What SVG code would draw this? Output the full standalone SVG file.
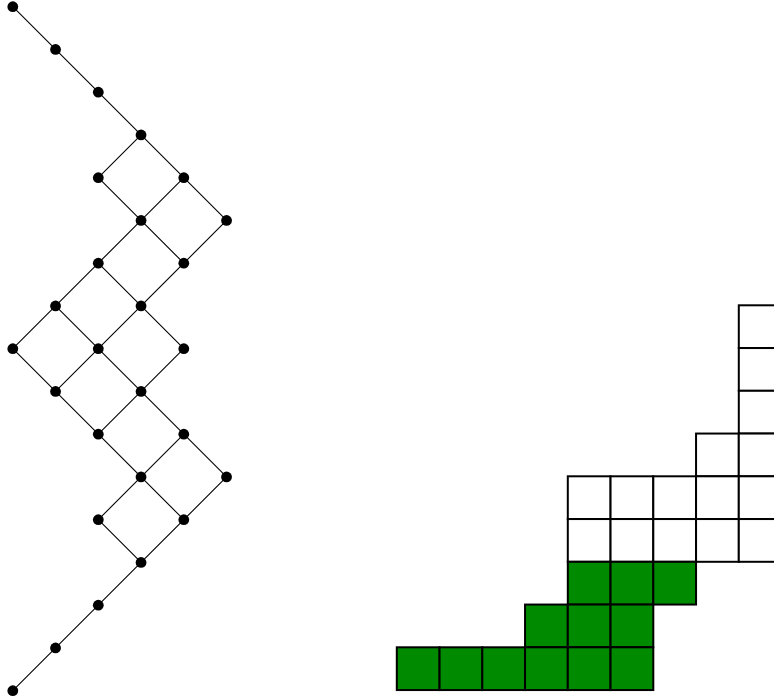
<svg xmlns="http://www.w3.org/2000/svg" width="774" height="700" viewBox="0 0 774 700">
<style>
.e{stroke:#000;stroke-width:1.1;fill:none}
.n{fill:#000}
.w{fill:#fff;stroke:#000;stroke-width:2}
.g{fill:#008a00;stroke:#000;stroke-width:2}
</style>
<rect width="774" height="700" fill="#fff"/>
<g id="connectors" class="e">
<g transform="translate(12.8,6.7) scale(42.75)" stroke-width="0.0257">
<path d="M0 0L3 3M3 3L2 4M3 3L5 5M2 4L3 5M3 5L2 6M3 5L4 4M3 5L4 6M5 5L1 9M2 6L0 8M2 6L4 8M1 7L3 9M0 8L3 11M3 7L4 6M4 8L2 10M3 9L5 11M5 11L3 13M3 11L2 12M2 10L4 12M2 12L3 13M4 10L3 11M3 13L0 16"/>
</g>
</g>
<g id="nodes" class="n">
<g transform="translate(12.8,6.7)">
<circle id="n0" cx="0" cy="0" r="5.4"/>
<circle id="n1" cx="42.75" cy="42.75" r="5.4"/>
<circle id="n2" cx="85.5" cy="85.5" r="5.4"/>
<circle id="n3" cx="128.25" cy="128.25" r="5.4"/>
<circle id="n4" cx="85.5" cy="171" r="5.4"/>
<circle id="n5" cx="171" cy="171" r="5.4"/>
<circle id="n6" cx="128.25" cy="213.75" r="5.4"/>
<circle id="n7" cx="213.75" cy="213.75" r="5.4"/>
<circle id="n8" cx="85.5" cy="256.5" r="5.4"/>
<circle id="n9" cx="171" cy="256.5" r="5.4"/>
<circle id="n10" cx="42.75" cy="299.25" r="5.4"/>
<circle id="n11" cx="128.25" cy="299.25" r="5.4"/>
<circle id="n12" cx="0" cy="342" r="5.4"/>
<circle id="n13" cx="85.5" cy="342" r="5.4"/>
<circle id="n14" cx="171" cy="342" r="5.4"/>
<circle id="n15" cx="42.75" cy="384.75" r="5.4"/>
<circle id="n16" cx="128.25" cy="384.75" r="5.4"/>
<circle id="n17" cx="85.5" cy="427.5" r="5.4"/>
<circle id="n18" cx="171" cy="427.5" r="5.4"/>
<circle id="n19" cx="128.25" cy="470.25" r="5.4"/>
<circle id="n20" cx="213.75" cy="470.25" r="5.4"/>
<circle id="n21" cx="85.5" cy="513" r="5.4"/>
<circle id="n22" cx="171" cy="513" r="5.4"/>
<circle id="n23" cx="128.25" cy="555.75" r="5.4"/>
<circle id="n24" cx="85.5" cy="598.5" r="5.4"/>
<circle id="n25" cx="42.75" cy="641.25" r="5.4"/>
<circle id="n26" cx="0" cy="684" r="5.4"/>
</g>
</g>
<g id="grid">
<g class="w">
<rect x="738.8" y="305.3" width="42.75" height="42.75"/>
<rect x="738.8" y="348.05" width="42.75" height="42.75"/>
<rect x="738.8" y="390.8" width="42.75" height="42.75"/>
<rect x="696.05" y="433.55" width="42.75" height="42.75"/>
<rect x="738.8" y="433.55" width="42.75" height="42.75"/>
<rect x="567.8" y="476.3" width="42.75" height="42.75"/>
<rect x="610.55" y="476.3" width="42.75" height="42.75"/>
<rect x="653.3" y="476.3" width="42.75" height="42.75"/>
<rect x="696.05" y="476.3" width="42.75" height="42.75"/>
<rect x="738.8" y="476.3" width="42.75" height="42.75"/>
<rect x="567.8" y="519.05" width="42.75" height="42.75"/>
<rect x="610.55" y="519.05" width="42.75" height="42.75"/>
<rect x="653.3" y="519.05" width="42.75" height="42.75"/>
<rect x="696.05" y="519.05" width="42.75" height="42.75"/>
<rect x="738.8" y="519.05" width="42.75" height="42.75"/>
</g>
<g class="g">
<rect x="567.8" y="561.8" width="42.75" height="42.75"/>
<rect x="610.55" y="561.8" width="42.75" height="42.75"/>
<rect x="653.3" y="561.8" width="42.75" height="42.75"/>
<rect x="525.05" y="604.55" width="42.75" height="42.75"/>
<rect x="567.8" y="604.55" width="42.75" height="42.75"/>
<rect x="610.55" y="604.55" width="42.75" height="42.75"/>
<rect x="396.8" y="647.3" width="42.75" height="42.75"/>
<rect x="439.55" y="647.3" width="42.75" height="42.75"/>
<rect x="482.3" y="647.3" width="42.75" height="42.75"/>
<rect x="525.05" y="647.3" width="42.75" height="42.75"/>
<rect x="567.8" y="647.3" width="42.75" height="42.75"/>
<rect x="610.55" y="647.3" width="42.75" height="42.75"/>
</g>
</g>
</svg>
